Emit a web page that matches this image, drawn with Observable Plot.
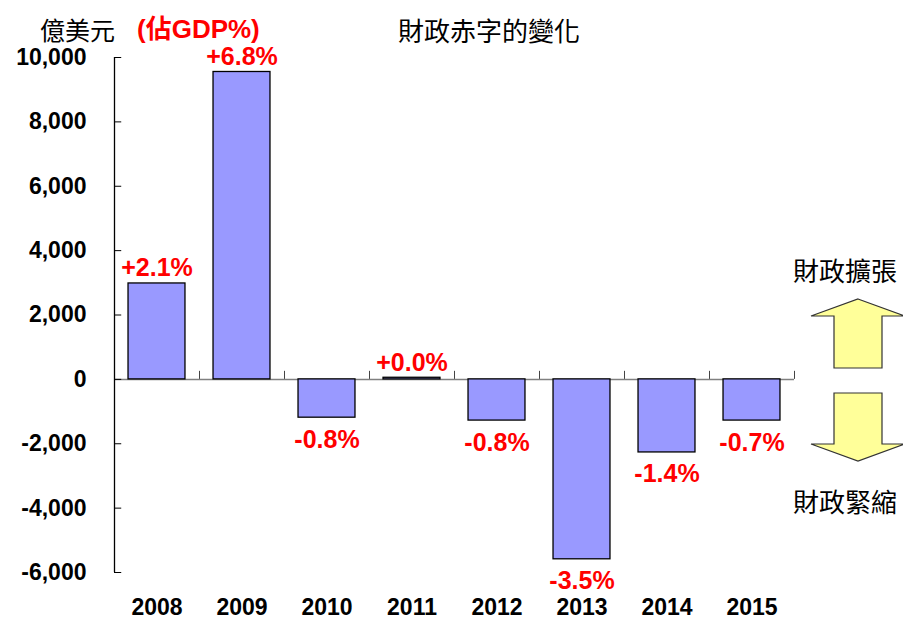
<!DOCTYPE html>
<html>
<head>
<meta charset="utf-8">
<script src="https://cdn.jsdelivr.net/npm/d3@7"></script>
<script src="https://cdn.jsdelivr.net/npm/@observablehq/plot@0.6"></script>
<style>
  body { margin: 0; background: #fff; }
  #wrap { position: relative; width: 903px; height: 619px; }
  #wrap svg { position: absolute; left: 0; top: 0; }
  .cjk { font-family: "Noto Sans CJK TC", "Noto Sans CJK SC", sans-serif; }
</style>
</head>
<body>
<div id="wrap"></div>
<script>
// ---- data ----
const years = [2008, 2009, 2010, 2011, 2012, 2013, 2014, 2015];
const deficits = [2980, 9550, -1190, 50, -1280, -5590, -2270, -1280]; // 億美元
const gdpLabels = ["+2.1%", "+6.8%", "-0.8%", "+0.0%", "-0.8%", "-3.5%", "-1.4%", "-0.7%"];
const yTicks = [-6000, -4000, -2000, 0, 2000, 4000, 6000, 8000, 10000];
const titleText = "財政赤字的變化";
const unitText = "億美元";
const unitNote = "(佔GDP%)";
const upText = "財政擴張";
const downText = "財政緊縮";

const data = years.map((y, i) => ({year: y, value: deficits[i], label: gdpLabels[i]}));
const boundaries = years.map(y => y + 0.5);
const xDomain = [years[0] - 0.5, years[years.length - 1] + 0.5];
const halfBar = 0.335;

const fmt = d => d.toLocaleString("en-US");

const chart = Plot.plot({
  width: 903,
  height: 619,
  marginTop: 57,
  marginBottom: 47,
  marginLeft: 114,
  marginRight: 109,
  style: {fontFamily: "'Liberation Sans', Arial, sans-serif", color: "#000", background: "transparent"},
  x: {type: "linear", domain: xDomain, axis: null},
  y: {domain: [-6000, 10000], axis: null},
  marks: [
    Plot.ruleY([0], {stroke: "#808080", strokeWidth: 1.5}),
    Plot.ruleX(boundaries, {x: d => d, y1: 0, y2: 250, stroke: "#444", strokeWidth: 1}),
    Plot.rect(data, {
      x1: d => d.year - halfBar, x2: d => d.year + halfBar,
      y1: 0, y2: "value",
      fill: "#9999FF", stroke: "#000", strokeWidth: 1.3
    }),
    Plot.ruleX([xDomain[0]], {y1: -6000, y2: 10000, stroke: "#000", strokeWidth: 1.3}),
    Plot.ruleY(yTicks, {y: d => d, x1: xDomain[0], x2: xDomain[0] + 0.085, stroke: "#000", strokeWidth: 1}),
    Plot.axisY({ticks: yTicks, tickSize: 0, tickPadding: 28, tickFormat: fmt, label: null,
      fontSize: 23, fontWeight: "bold", fill: "#000"}),
    Plot.axisX({ticks: years, tickSize: 0, tickPadding: 26, tickFormat: d => String(d), label: null,
      fontSize: 23, fontWeight: "bold", fill: "#000"}),
    Plot.text(data.filter(d => d.value >= 0), {
      x: "year", y: "value", text: "label", dy: -15,
      fill: "#FF0000", fontSize: 25, fontWeight: "bold"
    }),
    Plot.text(data.filter(d => d.value < 0), {
      x: "year", y: "value", text: "label", dy: 22,
      fill: "#FF0000", fontSize: 25, fontWeight: "bold"
    })
  ]
});

const wrap = document.getElementById("wrap");
wrap.appendChild(chart);

// ---- annotation overlay (titles and direction arrows) ----
const ns = "http://www.w3.org/2000/svg";
const ov = document.createElementNS(ns, "svg");
ov.setAttribute("width", 903);
ov.setAttribute("height", 619);
ov.innerHTML = `
  <text class="cjk" x="40" y="29" dominant-baseline="central" font-size="25" fill="#000">${unitText}</text>
  <text x="137" y="29" dominant-baseline="central" font-size="26" font-weight="bold" fill="#FF0000"
        font-family="'Liberation Sans', Arial, 'Noto Sans CJK TC', sans-serif">${unitNote}</text>
  <text class="cjk" x="489" y="29" text-anchor="middle" dominant-baseline="central" font-size="26" fill="#000">${titleText}</text>
  <text class="cjk" x="793" y="269" dominant-baseline="central" font-size="26" fill="#000">${upText}</text>
  <text class="cjk" x="793" y="500" dominant-baseline="central" font-size="26" fill="#000">${downText}</text>
  <polygon points="858,299 905,316 882,316 882,368 834,368 834,316 811,316" fill="#FFFF99" stroke="#333" stroke-width="1.2"/>
  <polygon points="834,393 882,393 882,444 905,444 858,461 811,444 834,444" fill="#FFFF99" stroke="#333" stroke-width="1.2"/>
`;
wrap.appendChild(ov);
</script>
</body>
</html>
